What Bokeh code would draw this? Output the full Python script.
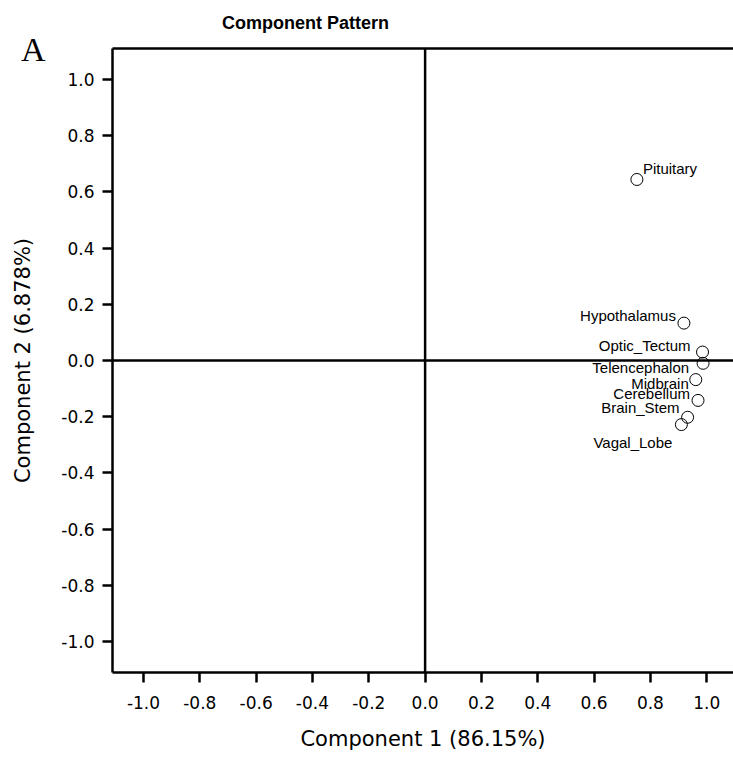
from bokeh.plotting import figure
from bokeh.models import Span, LinearAxis, FixedTicker, ColumnDataSource, Range1d
from bokeh.core.properties import value
from bokeh.embed import file_html
from bokeh.resources import INLINE

# ---- data ----
tissues = ["Pituitary", "Hypothalamus", "Optic_Tectum", "Telencephalon",
           "Midbrain", "Cerebellum", "Brain_Stem", "Vagal_Lobe"]
component1 = [0.752, 0.919, 0.985, 0.987, 0.961, 0.969, 0.932, 0.910]
component2 = [0.644, 0.133, 0.030, -0.010, -0.068, -0.142, -0.202, -0.228]

tick_values = [-1.0, -0.8, -0.6, -0.4, -0.2, 0.0, 0.2, 0.4, 0.6, 0.8, 1.0]
tick_labels = ["-1.0", "-0.8", "-0.6", "-0.4", "-0.2", "0.0", "0.2", "0.4", "0.6", "0.8", "1.0"]

title_text = "Component Pattern"
x_label = "Component 1 (86.15%)"
y_label = "Component 2 (6.878%)"
panel_letter = "A"

# layout anchors (in axis units) for the title and the panel letter
title_anchor_x = -0.425
panel_letter_anchor_y = 1.108

# label placement (screen-pixel offsets relative to each point)
label_align = ["left", "right", "right", "right", "right", "right", "right", "right"]
label_dx = [6, -8, -12, -14, -7, -8, -8, -9]
label_dy = [-11, -8, -7, 4, 4, -7, -10, 18]

p = figure(width=733, height=758, output_backend="svg", toolbar_location=None,
           x_range=Range1d(-1.11, 1.095), y_range=Range1d(-1.11, 1.11),
           min_border_left=112, min_border_right=0, min_border_top=48, min_border_bottom=86)
p.outline_line_color = None
p.background_fill_color = "white"
p.border_fill_color = "white"
p.xgrid.visible = False
p.ygrid.visible = False

overrides = {v: s for v, s in zip(tick_values, tick_labels)}
for ax in (p.xaxis[0], p.yaxis[0]):
    ax.ticker = FixedTicker(ticks=tick_values)
    ax.major_label_overrides = overrides
    ax.major_label_text_font = "DejaVu Sans"
    ax.major_label_text_font_size = "17px"
    ax.major_label_text_color = "black"
    ax.axis_line_width = 2.5
    ax.axis_line_color = "black"
    ax.major_tick_line_width = 2.5
    ax.major_tick_line_color = "black"
    ax.major_tick_out = 10
    ax.major_tick_in = 0
    ax.minor_tick_out = 0
    ax.minor_tick_in = 0
    ax.axis_label_text_font = "DejaVu Sans"
    ax.axis_label_text_font_size = "21px"
    ax.axis_label_text_font_style = "normal"
    ax.axis_label_text_color = "black"

p.xaxis.axis_label = x_label
p.xaxis.major_label_standoff = 13
p.yaxis.major_label_standoff = 8
p.xaxis.axis_label_standoff = 15

# outer left axis: carries the panel letter and the y-axis title
outer_left = LinearAxis(ticker=FixedTicker(ticks=[panel_letter_anchor_y]),
                        major_label_overrides={panel_letter_anchor_y: panel_letter},
                        major_label_text_font="Liberation Serif",
                        major_label_text_font_size="34px",
                        major_label_text_color="black",
                        major_label_standoff=13,
                        axis_line_color=None,
                        major_tick_out=0, major_tick_in=0, minor_tick_out=0, minor_tick_in=0,
                        axis_label=y_label,
                        axis_label_text_font="DejaVu Sans",
                        axis_label_text_font_size="21px",
                        axis_label_text_font_style="normal",
                        axis_label_text_color="black",
                        axis_label_standoff=-17)
p.add_layout(outer_left, "left")

# top border line, carrying the chart title
top_axis = LinearAxis(ticker=FixedTicker(ticks=[title_anchor_x]),
                      major_label_overrides={title_anchor_x: title_text},
                      major_label_text_font="Liberation Sans",
                      major_label_text_font_size="18px",
                      major_label_text_font_style="bold",
                      major_label_text_color="black",
                      major_label_standoff=16,
                      major_tick_out=0, major_tick_in=0, minor_tick_out=0, minor_tick_in=0,
                      axis_line_width=2.5, axis_line_color="black")
p.add_layout(top_axis, "above")

# zero reference lines
p.add_layout(Span(location=0, dimension="height", line_color="black", line_width=2.5))
p.add_layout(Span(location=0, dimension="width", line_color="black", line_width=2.5))

src = ColumnDataSource(dict(x=component1, y=component2, name=tissues))
p.scatter("x", "y", source=src, marker="circle", size=12,
          fill_color=None, line_color="black", line_width=1)

left_idx = [i for i, a in enumerate(label_align) if a == "left"]
right_idx = [i for i, a in enumerate(label_align) if a == "right"]
for idx, al in ((left_idx, "left"), (right_idx, "right")):
    s = ColumnDataSource(dict(x=[component1[i] for i in idx], y=[component2[i] for i in idx],
                              name=[tissues[i] for i in idx],
                              dx=[label_dx[i] for i in idx], dy=[label_dy[i] for i in idx]))
    p.text("x", "y", text="name", source=s, x_offset="dx", y_offset="dy",
           text_align=al, text_baseline="alphabetic",
           text_font=value("Liberation Sans"), text_font_size="15px", text_color="black")

open("out.html", "w").write(file_html(p, INLINE))
